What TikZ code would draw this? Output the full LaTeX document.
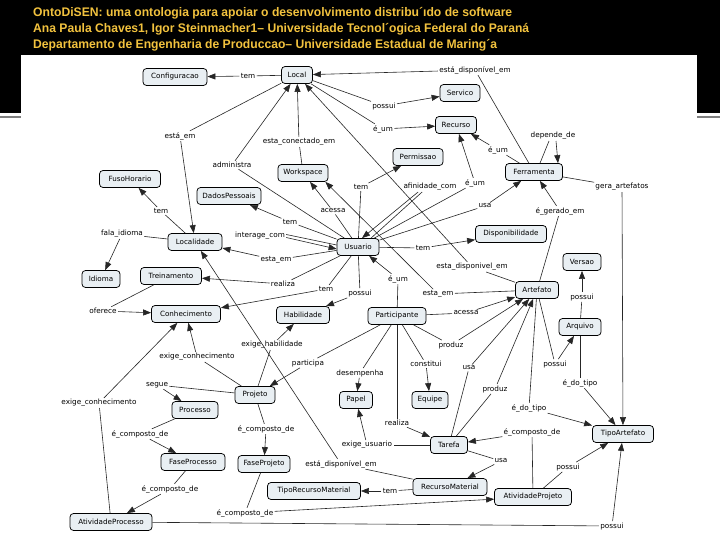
\documentclass[tikz,border=0pt]{standalone}
\usepackage{fontspec}
\usepackage{graphicx}
\setmainfont{DejaVu Sans}
\newfontfamily\titlefont[FakeStretch=0.84]{Liberation Sans}
\usetikzlibrary{arrows.meta}
\definecolor{nodefill}{RGB}{233,239,243}
\definecolor{titlegold}{RGB}{242,194,62}
\begin{document}
\begin{tikzpicture}[x=1bp,y=-1bp,
  cn/.style={draw=black, line width=0.75bp, rounded corners=3.5bp, fill=nodefill,
    font=\fontsize{7.2}{8}\selectfont, inner xsep=3bp, inner ysep=0bp, minimum height=17bp},
  lb/.style={font=\fontsize{7.3}{8}\selectfont, inner sep=1.2bp},
  ln/.style={line width=0.6bp, draw=black!85},
  ar/.style={ln, -{Triangle[length=8bp,width=6bp]}},
  ttl/.style={anchor=west, text=titlegold, inner sep=0bp, font=\titlefont\bfseries\fontsize{12.5}{14}\selectfont}
]
\useasboundingbox (0,0) rectangle (720,540);
\fill[black] (0,0) rectangle (720,113);
\fill[white] (21,55) rectangle (697,540);
\draw[gray, line width=1.5bp] (0,117) -- (21,117);
\draw[gray, line width=1.5bp] (697,117) -- (720,117);

\node[ttl] (t1) at (33,13) {\resizebox{479bp}{\height}{OntoDiSEN: uma ontologia para apoiar o desenvolvimento distribu´ıdo de software}};
\node[ttl] (t2) at (33,29) {\resizebox{496bp}{\height}{Ana Paula Chaves1, Igor Steinmacher1– Universidade Tecnol´ogica Federal do Paraná}};
\node[ttl] (t3) at (33,45) {\resizebox{464bp}{\height}{Departamento de Engenharia de Produccao– Universidade Estadual de Maring´a}};

% concepts
\node[cn, minimum width=64bp] (config) at (175,77) {Configuracao};
\node[cn, minimum width=31bp] (local) at (297,75) {Local};
\node[cn, minimum width=40bp] (servico) at (460,93) {Servico};
\node[cn, minimum width=41bp] (recurso) at (456,125) {Recurso};
\node[cn, minimum width=50bp] (permissao) at (418,157) {Permissao};
\node[cn, minimum width=57bp] (ferramenta) at (534,172) {Ferramenta};
\node[cn, minimum width=61bp] (fuso) at (130,179) {FusoHorario};
\node[cn, minimum width=64bp] (dados) at (229,196) {DadosPessoais};
\node[cn, minimum width=50bp] (workspace) at (303,173) {Workspace};
\node[cn, minimum width=54bp] (localidade) at (195,242) {Localidade};
\node[cn, minimum width=42bp] (usuario) at (358,247) {Usuario};
\node[cn, minimum width=71bp] (disponib) at (511,234) {Disponibilidade};
\node[cn, minimum width=38bp] (versao) at (582,262) {Versao};
\node[cn, minimum width=43bp] (artefato) at (537,290) {Artefato};
\node[cn, minimum width=42bp] (arquivo) at (580,327) {Arquivo};
\node[cn, minimum width=58bp] (particip) at (397,316) {Participante};
\node[cn, minimum width=38bp] (idioma) at (101,279) {Idioma};
\node[cn, minimum width=61bp] (treinamento) at (171,276) {Treinamento};
\node[cn, minimum width=69bp] (conhec) at (186,314) {Conhecimento};
\node[cn, minimum width=53bp] (habilid) at (303,315) {Habilidade};
\node[cn, minimum width=40bp] (projeto) at (255,395) {Projeto};
\node[cn, minimum width=46bp] (processo) at (195,410) {Processo};
\node[cn, minimum width=33bp] (papel) at (356,400) {Papel};
\node[cn, minimum width=36bp] (equipe) at (430,400) {Equipe};
\node[cn, minimum width=64bp] (faseproc) at (193,462) {FaseProcesso};
\node[cn, minimum width=52bp] (faseproj) at (264,464) {FaseProjeto};
\node[cn, minimum width=37bp] (tarefa) at (449,445) {Tarefa};
\node[cn, minimum width=61bp] (tipoart) at (623,434) {TipoArtefato};
\node[cn, minimum width=93bp] (tiporec) at (314,491) {TipoRecursoMaterial};
\node[cn, minimum width=74bp] (recmat) at (450,487) {RecursoMaterial};
\node[cn, minimum width=77bp] (ativproj) at (533,497) {AtividadeProjeto};
\node[cn, minimum width=82bp] (ativproc) at (111,522) {AtividadeProcesso};

% linking phrases
\node[lb] (l1) at (248,76) {tem};
\node[lb] (l2) at (475,70) {está\_disponível\_em};
\node[lb] (l3) at (384,106) {possui};
\node[lb] (l4) at (383,129) {é\_um};
\node[lb] (l5) at (498,150) {é\_um};
\node[lb] (l6) at (553,136) {depende\_de};
\node[lb] (l7) at (622,187) {gera\_artefatos};
\node[lb] (l8) at (475,183) {é\_um};
\node[lb] (l9) at (485,206) {usa};
\node[lb] (l10) at (560,211) {é\_gerado\_em};
\node[lb] (l11) at (430,187) {afinidade\_com};
\node[lb] (l12) at (361,187) {tem};
\node[lb] (l13) at (232,165) {administra};
\node[lb] (l14) at (299,142) {esta\_conectado\_em};
\node[lb] (l15) at (180,136) {está\_em};
\node[lb] (l16) at (333,211) {acessa};
\node[lb] (l17) at (290,222) {tem};
\node[lb] (l18) at (260,236) {interage\_com};
\node[lb] (l19) at (276,260) {esta\_em};
\node[lb] (l20) at (283,284) {realiza};
\node[lb] (l21) at (326,289) {tem};
\node[lb] (l22) at (360,293) {possui};
\node[lb] (l23) at (423,248) {tem};
\node[lb] (l24) at (398,279) {é\_um};
\node[lb] (l25) at (472,267) {esta\_disponivel\_em};
\node[lb] (l26) at (438,294) {esta\_em};
\node[lb] (l27) at (161,211) {tem};
\node[lb] (l28) at (122,234) {fala\_idioma};
\node[lb] (l29) at (103,311) {oferece};
\node[lb] (l30) at (99,403) {exige\_conhecimento};
\node[lb] (l31) at (197,357) {exige\_conhecimento};
\node[lb] (l32) at (272,345) {exige\_habilidade};
\node[lb] (l33) at (308,363) {participa};
\node[lb] (l34) at (157,385) {segue};
\node[lb] (l35) at (266,429) {é\_composto\_de};
\node[lb] (l36) at (140,434) {é\_composto\_de};
\node[lb] (l37) at (170,489) {é\_composto\_de};
\node[lb] (l38) at (245,513) {é\_composto\_de};
\node[lb] (l39) at (612,526) {possui};
\node[lb] (l40) at (568,467) {possui};
\node[lb] (l41) at (532,432) {é\_composto\_de};
\node[lb] (l42) at (397,423) {realiza};
\node[lb] (l43) at (367,445) {exige\_usuario};
\node[lb] (l44) at (469,368) {usa};
\node[lb] (l45) at (495,389) {produz};
\node[lb] (l46) at (501,461) {usa};
\node[lb] (l47) at (466,313) {acessa};
\node[lb] (l48) at (451,345) {produz};
\node[lb] (l49) at (426,364) {constitui};
\node[lb] (l50) at (360,373) {desempenha};
\node[lb] (l51) at (582,297) {possui};
\node[lb] (l52) at (555,364) {possui};
\node[lb] (l53) at (580,383) {é\_do\_tipo};
\node[lb] (l54) at (529,408) {é\_do\_tipo};
\node[lb] (l55) at (390,491) {tem};
\node[lb] (l56) at (341,464) {está\_disponível\_em};

% links
\draw[ln] (local) -- (l1); \draw[ar] (l1) -- (config);
\draw[ln] (ferramenta) -- (l2); \draw[ar] (l2) -- (local);
\draw[ln] (local) -- (l3); \draw[ar] (l3) -- (servico);
\draw[ln] (local) -- (l4); \draw[ar] (l4) -- (recurso);
\draw[ln] (ferramenta) -- (l5); \draw[ar] (l5) -- (recurso);
\draw[ln] ([xshift=6bp]ferramenta.north) -- ([xshift=-4bp]l6.south);
\draw[ar] ([xshift=3bp]l6.south) -- ([xshift=24bp]ferramenta.north);
\draw[ln] (ferramenta) -- (l7); \draw[ar] (l7) -- (tipoart);
\draw[ln] (usuario) -- (l8); \draw[ar] (l8) -- (recurso);
\draw[ln] (usuario) -- (l9); \draw[ar] (l9) -- (ferramenta);
\draw[ln] (artefato) -- (l10); \draw[ar] (l10) -- (ferramenta);
\draw[ln] ([xshift=13bp]usuario.north) -- ([xshift=20bp]l11.south west);
\draw[ar] ([xshift=16bp]l11.south west) -- ([xshift=4bp]usuario.north);
\draw[ln] (usuario) -- (l12); \draw[ar] (l12) -- (permissao);
\draw[ln] (usuario) -- (l13); \draw[ar] (l13) -- (local);
\draw[ln] (workspace) -- (l14); \draw[ar] (l14) -- (local);
\draw[ln] (local) -- (l15); \draw[ar] (l15) -- (localidade);
\draw[ln] (usuario) -- (l16); \draw[ar] (l16) -- (workspace);
\draw[ln] (usuario) -- (l17); \draw[ar] (l17) -- (dados);
\draw[ln] ([yshift=1.5bp]l18.east) -- ([yshift=2bp]usuario.west);
\draw[ar] ([yshift=-1.5bp]l18.east) -- ([yshift=-2bp]usuario.west);
\draw[ln] (usuario) -- (l19); \draw[ar] (l19) -- (localidade);
\draw[ln] (usuario) -- (l20); \draw[ar] (l20) -- (treinamento);
\draw[ln] (usuario) -- (l21); \draw[ar] (l21) -- (conhec);
\draw[ln] (usuario) -- (l22); \draw[ar] (l22) -- (habilid);
\draw[ln] (usuario) -- (l23); \draw[ar] (l23) -- (disponib);
\draw[ln] (particip) -- (l24); \draw[ar] (l24) -- (usuario);
\draw[ln] (artefato) -- (l25); \draw[ar] (l25) -- (local);
\draw[ln] (artefato) -- (l26); \draw[ar] (l26) -- ([xshift=-3bp]workspace.south east);
\draw[ln] (localidade) -- (l27); \draw[ar] (l27) -- (fuso);
\draw[ln] (localidade) -- (l28); \draw[ar] (l28) -- (idioma);
\draw[ln] (treinamento) -- (l29); \draw[ar] (l29) -- (conhec);
\draw[ln] (ativproc) -- (l30); \draw[ar] (l30) -- (conhec);
\draw[ln] (projeto) -- (l31); \draw[ar] (l31) -- (conhec);
\draw[ln] (projeto) -- (l32); \draw[ar] (l32) -- (habilid);
\draw[ln] (particip) -- (l33); \draw[ar] (l33) -- (projeto);
\draw[ln] (projeto) -- (l34); \draw[ar] (l34) -- (processo);
\draw[ln] (projeto) -- (l35); \draw[ar] (l35) -- (faseproj);
\draw[ln] (processo) -- (l36); \draw[ar] (l36) -- (faseproc);
\draw[ln] (faseproc) -- (l37); \draw[ar] (l37) -- (ativproc);
\draw[ln] (faseproj) -- (l38); \draw[ar] (l38) -- (ativproj);
\draw[ln] (ativproc) -- (l39); \draw[ar] (l39) -- (tipoart);
\draw[ln] (ativproj) -- (l40); \draw[ar] (l40) -- (tipoart);
\draw[ln] (ativproj) -- (l41); \draw[ar] (l41) -- (tarefa);
\draw[ln] (particip) -- (l42); \draw[ar] (l42) -- (tarefa);
\draw[ln] (tarefa) -- (l43); \draw[ar] (l43) -- (papel);
\draw[ln] (tarefa) -- (l44); \draw[ar] (l44) -- (artefato);
\draw[ln] (tarefa) -- (l45); \draw[ar] (l45) -- (artefato);
\draw[ln] (tarefa) -- (l46); \draw[ar] (l46) -- (recmat);
\draw[ln] (particip) -- (l47); \draw[ar] (l47) -- (artefato);
\draw[ln] (particip) -- (l48); \draw[ar] (l48) -- (artefato);
\draw[ln] (particip) -- (l49); \draw[ar] (l49) -- (equipe);
\draw[ln] (particip) -- (l50); \draw[ar] (l50) -- (papel);
\draw[ln] (arquivo) -- (l51); \draw[ar] (l51) -- (versao);
\draw[ln] (artefato) -- (l52); \draw[ar] (l52) -- (arquivo);
\draw[ln] (arquivo) -- (l53); \draw[ar] (l53) -- (tipoart);
\draw[ln] (artefato) -- (l54); \draw[ar] (l54) -- (tipoart);
\draw[ln] (recmat) -- (l55); \draw[ar] (l55) -- (tiporec);
\draw[ln] (recmat) -- (l56); \draw[ar] (l56) -- (localidade);
\end{tikzpicture}
\end{document}
